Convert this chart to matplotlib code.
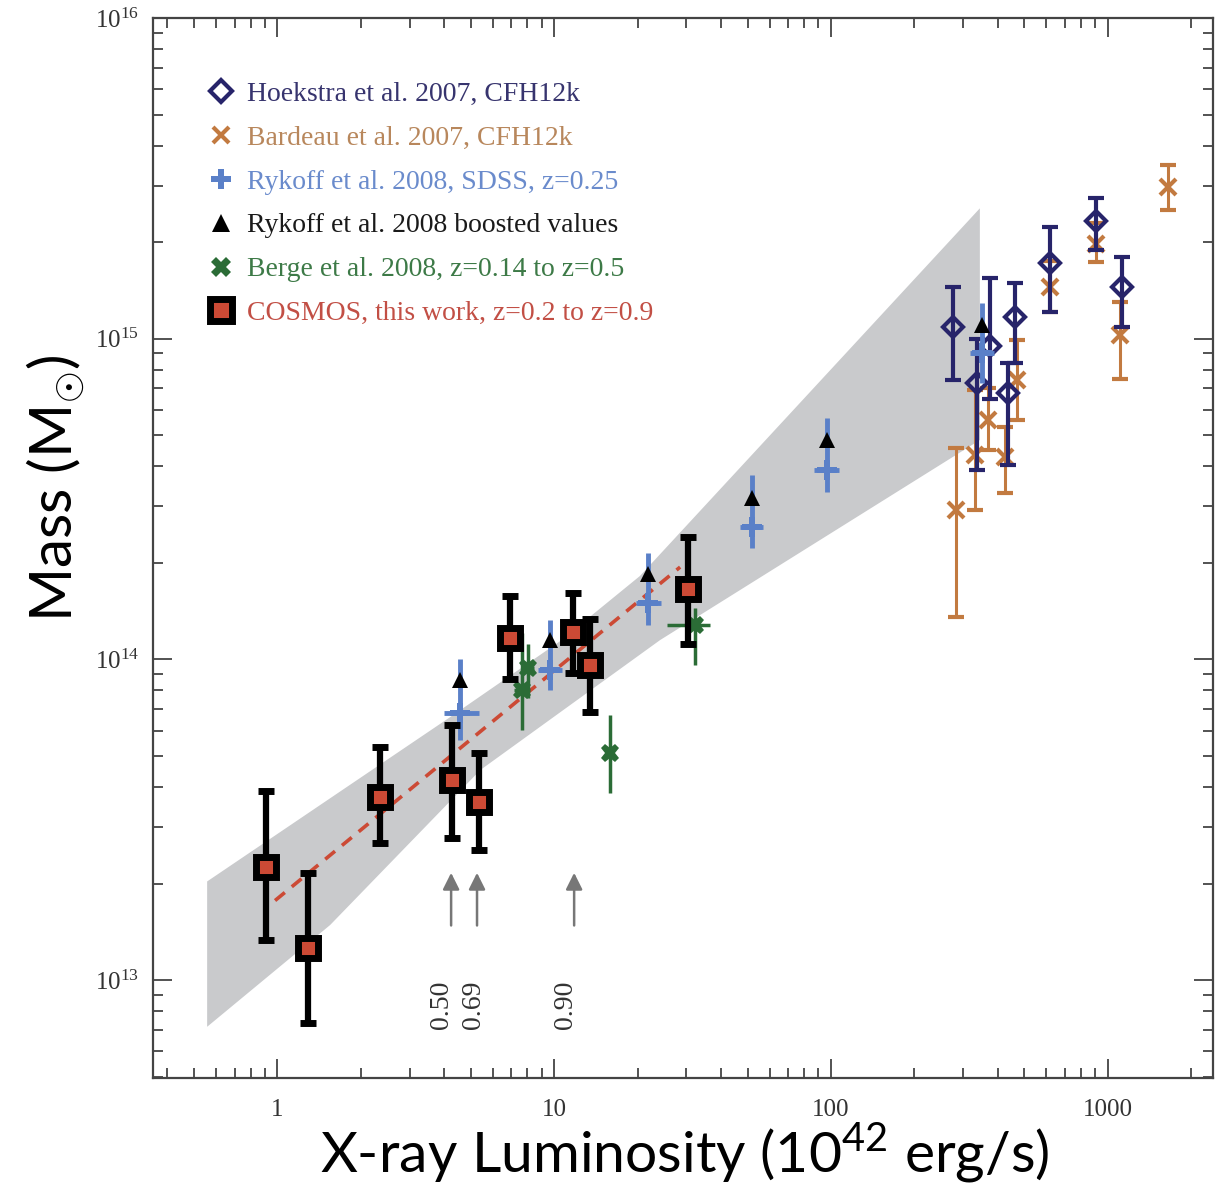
import numpy as np
import matplotlib
matplotlib.use("Agg")
import matplotlib.pyplot as plt
from matplotlib.lines import Line2D

plt.rcParams['mathtext.fontset'] = 'custom'
plt.rcParams['mathtext.rm'] = 'Liberation Serif'
plt.rcParams['mathtext.sf'] = 'Lato'
plt.rcParams['font.family'] = ['Liberation Serif', 'DejaVu Serif']

# ---------------- data ----------------
# COSMOS (this work)
cosmos_L = [0.91, 1.29, 2.35, 4.27, 5.33, 6.9, 11.7, 13.5, 30.5]
cosmos_M = [2.25e13, 1.26e13, 3.71e13, 4.20e13, 3.58e13, 1.17e14, 1.22e14, 9.6e13, 1.66e14]
cosmos_hi = [3.9e13, 2.15e13, 5.34e13, 6.24e13, 5.10e13, 1.58e14, 1.61e14, 1.34e14, 2.41e14]
cosmos_lo = [1.33e13, 7.35e12, 2.67e13, 2.77e13, 2.54e13, 8.7e13, 9.1e13, 6.87e13, 1.12e14]

# Rykoff et al. 2008 SDSS
ryk_L = [4.58, 9.67, 21.9, 51.7, 96.5, 350]
ryk_Llo = [3.98, 8.7, 19.7, 46.8, 87.0, 318]
ryk_Lhi = [5.33, 10.7, 24.3, 57.0, 107.0, 388]
ryk_M = [6.8e13, 9.27e13, 1.50e14, 2.59e14, 3.89e14, 9.0e14]
ryk_hi = [1.0e14, 1.33e14, 2.14e14, 3.76e14, 5.65e14, 1.29e15]
ryk_lo = [5.6e13, 8.0e13, 1.28e14, 2.22e14, 3.33e14, 7.3e14]

# Rykoff boosted values
boost_L = [4.58, 9.67, 21.9, 52.0, 96.5, 352]
boost_M = [8.6e13, 1.15e14, 1.85e14, 3.18e14, 4.83e14, 1.1e15]

# Hoekstra et al. 2007
hoek_L = [276, 336, 375, 461, 436, 618, 910, 1122]
hoek_M = [1.09e15, 7.26e14, 9.5e14, 1.17e15, 6.75e14, 1.72e15, 2.32e15, 1.45e15]
hoek_hi = [1.45e15, 1.0e15, 1.55e15, 1.49e15, 8.4e14, 2.23e15, 2.74e15, 1.80e15]
hoek_lo = [7.43e14, 3.89e14, 6.5e14, 8.4e14, 4.04e14, 1.21e15, 1.89e15, 1.09e15]

# Bardeau et al. 2007
bard_L = [284, 331, 369, 468, 425, 618, 910, 1105, 1651]
bard_M = [2.93e14, 4.34e14, 5.57e14, 7.43e14, 4.28e14, 1.45e15, 1.98e15, 1.03e15, 2.98e15]
bard_hi = [4.55e14, 6.9e14, 7.0e14, 9.9e14, 5.3e14, 1.75e15, 2.3e15, 1.3e15, 3.47e15]
bard_lo = [1.36e14, 2.93e14, 4.5e14, 5.57e14, 3.3e14, 1.21e15, 1.74e15, 7.5e14, 2.52e15]

# Berge et al. 2008
berge_L = [7.65, 8.06, 15.9, 32.3]
berge_Llo = [7.15, 7.7, 15.9, 25.5]
berge_Lhi = [8.2, 8.45, 15.9, 36.6]
berge_M = [8.0e13, 9.4e13, 5.1e13, 1.28e14]
berge_hi = [1.21e14, 1.12e14, 6.7e13, 1.45e14]
berge_lo = [6.03e13, 7.6e13, 3.82e13, 9.6e13]

# confidence band of the fit and best fit line
band_upper_L = [0.557, 4.21, 10.5, 20.4, 345]
band_upper_M = [2.03e13, 6.61e13, 1.14e14, 1.82e14, 2.55e15]
band_lower_L = [0.557, 1.55, 5.41, 24.1, 345]
band_lower_M = [7.15e12, 1.485e13, 4.52e13, 1.148e14, 4.83e14]
fit_L = [0.98, 28.5]
fit_M = [1.77e13, 1.94e14]

# redshift arrows
arrow_L = [4.24, 5.26, 11.8]
arrow_tip_M = 2.16e13
arrow_tail_M = 1.48e13
arrow_labels = ['0.50', '0.69', '0.90']
arrow_label_L = [3.9, 5.1, 11.0]
arrow_label_M = 8.4e12

xtick_vals = [1, 10, 100, 1000]
xtick_labels = ['1', '10', '100', '1000']
ytick_vals = [1e13, 1e14, 1e15, 1e16]
ytick_labels = [r'$\mathregular{10^{13}}$', r'$\mathregular{10^{14}}$',
                r'$\mathregular{10^{15}}$', r'$\mathregular{10^{16}}$']

legend_labels = ['Hoekstra et al. 2007, CFH12k',
                 'Bardeau et al. 2007, CFH12k',
                 'Rykoff et al. 2008, SDSS, z=0.25',
                 'Rykoff et al. 2008 boosted values',
                 'Berge et al. 2008, z=0.14 to z=0.5',
                 'COSMOS, this work, z=0.2 to z=0.9']

# ---------------- style ----------------
navy = '#27246a'
orange = '#c27a40'
blue = '#5a80c8'
green = '#2b6c36'
red = '#cc4a35'
band_col = '#c9cacc'


def yerr(m, lo, hi):
    m = np.asarray(m); return [m - np.asarray(lo), np.asarray(hi) - m]


fig = plt.figure(figsize=(12.28, 11.9), dpi=100)
ax = fig.add_axes([153/1228, 1 - 1078/1190, 1060/1228, 1060/1190])
ax.set_xscale('log')
ax.set_yscale('log')
ax.set_xlim(0.355, 2400)
ax.set_ylim(4.95e12, 1e16)

# band and fit
ax.fill(list(band_upper_L) + band_lower_L[::-1], list(band_upper_M) + band_lower_M[::-1],
        color=band_col, lw=0, zorder=1)
ax.plot(fit_L, fit_M, ls=(0, (3.5, 2.5)), color=red, lw=2.6, zorder=2)

# Bardeau
ax.errorbar(bard_L, bard_M, yerr=yerr(bard_M, bard_lo, bard_hi), fmt='x', ms=11, mew=3,
            color=orange, ecolor=orange, elinewidth=2.2, capsize=6, capthick=2.2, zorder=3)
# Hoekstra
ax.errorbar(hoek_L, hoek_M, yerr=yerr(hoek_M, hoek_lo, hoek_hi), fmt='D', ms=10, mew=3,
            mfc='none', mec=navy, color=navy, ecolor=navy, elinewidth=3, capsize=5.5,
            capthick=3, zorder=4)
# Berge
bL = np.asarray(berge_L)
ax.errorbar(berge_L, berge_M, yerr=yerr(berge_M, berge_lo, berge_hi),
            xerr=[bL - np.asarray(berge_Llo), np.asarray(berge_Lhi) - bL],
            fmt='X', ms=13, mew=0, color=green, ecolor=green, elinewidth=2.5,
            capsize=5.5, capthick=2.5, zorder=5)
# Rykoff SDSS
rL = np.asarray(ryk_L)
ax.errorbar(ryk_L, ryk_M, yerr=yerr(ryk_M, ryk_lo, ryk_hi),
            xerr=[rL - np.asarray(ryk_Llo), np.asarray(ryk_Lhi) - rL],
            fmt='P', ms=14, mew=0, color=blue, ecolor=blue, elinewidth=3.5,
            capsize=6, capthick=3.5, zorder=6)
# boosted
ax.plot(boost_L, boost_M, '^', ms=11, color='black', mew=0, zorder=7)
# COSMOS
ax.errorbar(cosmos_L, cosmos_M, yerr=yerr(cosmos_M, cosmos_lo, cosmos_hi), fmt='s',
            ms=15, mew=5, mfc=red, mec='black', ecolor='black', elinewidth=4.5,
            capsize=6, capthick=4.5, zorder=8)

# arrows
for L, lab, lL in zip(arrow_L, arrow_labels, arrow_label_L):
    ax.annotate('', xy=(L, arrow_tip_M), xytext=(L, arrow_tail_M),
                arrowprops=dict(arrowstyle='-|>,head_length=1.0,head_width=0.5',
                                color='#777777', lw=1.8, shrinkA=0, shrinkB=0), zorder=3)
    ax.text(lL, arrow_label_M, lab, rotation=90, ha='center', va='center',
            fontsize=20, color='#333333')

# ticks
ax.set_xticks(xtick_vals)
ax.set_xticklabels(xtick_labels)
ax.set_yticks(ytick_vals)
ax.set_yticklabels(ytick_labels)
ax.tick_params(which='both', direction='in', top=True, right=True, colors='#444444',
               labelcolor='#333333', labelsize=18)
ax.tick_params(which='major', length=14, width=1.3)
ax.tick_params(which='minor', length=7, width=1.3)
ax.tick_params(axis='x', pad=15)
ax.tick_params(axis='y', pad=10)
for s in ax.spines.values():
    s.set_color('#444444'); s.set_linewidth(1.6)

# legend
handles = [
    Line2D([], [], ls='none', marker='D', ms=11, mew=3, mfc='none', mec=navy),
    Line2D([], [], ls='none', marker='x', ms=11, mew=3, color=orange),
    Line2D([], [], ls='none', marker='P', ms=14, mew=0, color=blue),
    Line2D([], [], ls='none', marker='^', ms=13, mew=0, color='black'),
    Line2D([], [], ls='none', marker='X', ms=14, mew=0, color=green),
    Line2D([], [], ls='none', marker='s', ms=16, mew=5, mfc=red, mec='black'),
]
text_cols = ['#37346e', '#b8875c', '#6a8bcc', '#1a1a1a', '#3d7a47', '#c24f45']
leg = ax.legend(handles, legend_labels, loc='upper left', bbox_to_anchor=(0.038, 0.953),
                frameon=False, fontsize=20, labelcolor=text_cols, handlelength=1.0,
                handletextpad=0.45, labelspacing=0.66, borderpad=0)

# axis labels
fig.text(685/1228, 1 - 1153/1190, r'X-ray Luminosity (10$^{\mathsf{42}}$ erg/s)',
         ha='center', va='center', fontsize=41, family='Lato', color='black')
fig.text(56/1228, 1 - 488/1190, r'Mass (M$_{\odot}$)', rotation=90,
         ha='center', va='center', fontsize=42, family='Lato', color='black')

fig.savefig('out.png', dpi=100)
